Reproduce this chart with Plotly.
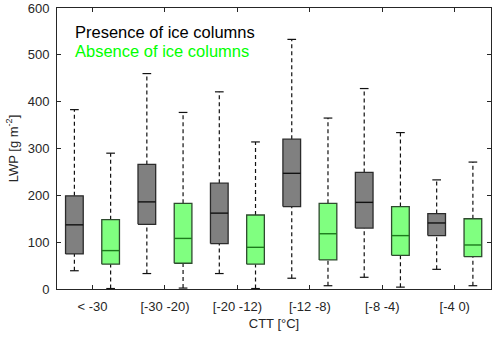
import plotly.graph_objects as go

# ── data ────────────────────────────────────────────────────────────────────
categories = ["< -30", "[-30 -20)", "[-20 -12)", "[-12 -8)", "[-8 -4)", "[-4 0)"]

# presence of ice columns
pres_low = [39, 33, 33, 23, 25, 42]
pres_q1 = [75, 138, 97, 176, 130, 114]
pres_med = [137, 186, 162, 247, 185, 141]
pres_q3 = [199, 266, 226, 320, 249, 161]
pres_high = [383, 460, 421, 533, 428, 233]

# absence of ice columns
abs_low = [1, 2, 1, 7, 4, 7]
abs_q1 = [53, 55, 53, 62, 72, 69]
abs_med = [82, 108, 89, 118, 114, 94]
abs_q3 = [148, 183, 158, 183, 176, 150]
abs_high = [290, 377, 314, 365, 334, 271]

_FONT = "Arial, Liberation Sans, sans-serif"
_AXIS = "#262626"
_GRAY_FILL = "#808080"
_GRAY_EDGE = "#2b2b2b"
_GRAY_MED = "#111111"
_GREEN_FILL = "#80ff80"
_GREEN_EDGE = "#2e4a2e"
_GREEN_MED = "#1c7a1c"
_LABEL_GREEN = "#00ff00"

HALF_BOX = 0.122
HALF_CAP = 0.06
OFFSET = 0.25


def add_boxes(fig, low, q1, med, q3, high, shift, fill, edge, med_color):
    for i in range(len(categories)):
        xc = i + shift
        x0, x1 = xc - HALF_BOX, xc + HALF_BOX
        # dashed whiskers
        fig.add_trace(go.Scatter(
            x=[xc, xc, None, xc, xc], y=[q3[i], high[i], None, low[i], q1[i]],
            mode="lines", line=dict(color="#111111", width=1.2, dash="4px,3px"),
            hoverinfo="skip", showlegend=False,
        ))
        # caps
        fig.add_trace(go.Scatter(
            x=[xc - HALF_CAP, xc + HALF_CAP, None, xc - HALF_CAP, xc + HALF_CAP],
            y=[high[i], high[i], None, low[i], low[i]],
            mode="lines", line=dict(color="#111111", width=1.2),
            hoverinfo="skip", showlegend=False,
        ))
        # box
        fig.add_trace(go.Scatter(
            x=[x0, x1, x1, x0, x0], y=[q1[i], q1[i], q3[i], q3[i], q1[i]],
            mode="lines", fill="toself", fillcolor=fill,
            line=dict(color=edge, width=1.3),
            hoverinfo="skip", showlegend=False,
        ))
        # median
        fig.add_trace(go.Scatter(
            x=[x0, x1], y=[med[i], med[i]], mode="lines",
            line=dict(color=med_color, width=1.4),
            hoverinfo="skip", showlegend=False,
        ))


fig = go.Figure()
add_boxes(fig, pres_low, pres_q1, pres_med, pres_q3, pres_high,
          -OFFSET, _GRAY_FILL, _GRAY_EDGE, _GRAY_MED)
add_boxes(fig, abs_low, abs_q1, abs_med, abs_q3, abs_high,
          OFFSET, _GREEN_FILL, _GREEN_EDGE, _GREEN_MED)

axis_common = dict(
    showline=True, linecolor=_AXIS, linewidth=1, mirror="ticks",
    ticks="inside", ticklen=4, tickcolor=_AXIS, showgrid=False, zeroline=False,
    tickfont=dict(family=_FONT, size=13, color=_AXIS),
)

fig.update_layout(
    width=500, height=337,
    paper_bgcolor="white", plot_bgcolor="white",
    font=dict(family=_FONT, color=_AXIS, size=13),
    margin=dict(l=57, r=9, t=8, b=48, autoexpand=False),
    showlegend=False,
    xaxis=dict(
        **axis_common, range=[-0.49, 5.5], ticklabelstandoff=5,
        tickmode="array", tickvals=list(range(len(categories))), ticktext=categories,
        title=dict(text="CTT [°C]", font=dict(family=_FONT, size=13, color=_AXIS),
                   standoff=6),
    ),
    yaxis=dict(
        **axis_common, range=[0, 600], tickvals=[0, 100, 200, 300, 400, 500, 600],
        ticklabelstandoff=4,
        title=dict(text="LWP [g m<sup>-2</sup>]",
                   font=dict(family=_FONT, size=13, color=_AXIS), standoff=6),
    ),
    annotations=[
        dict(text="Presence of ice columns", xref="paper", yref="paper",
             x=0.037, y=0.915, xanchor="left", yanchor="middle", showarrow=False,
             font=dict(family=_FONT, size=16.5, color="black")),
        dict(text="Absence of ice columns", xref="paper", yref="paper",
             x=0.037, y=0.847, xanchor="left", yanchor="middle", showarrow=False,
             font=dict(family=_FONT, size=16.5, color=_LABEL_GREEN)),
    ],
)

fig.write_html("out.html", config={"displayModeBar": False},
               post_script="document.body.style.margin='0';")
